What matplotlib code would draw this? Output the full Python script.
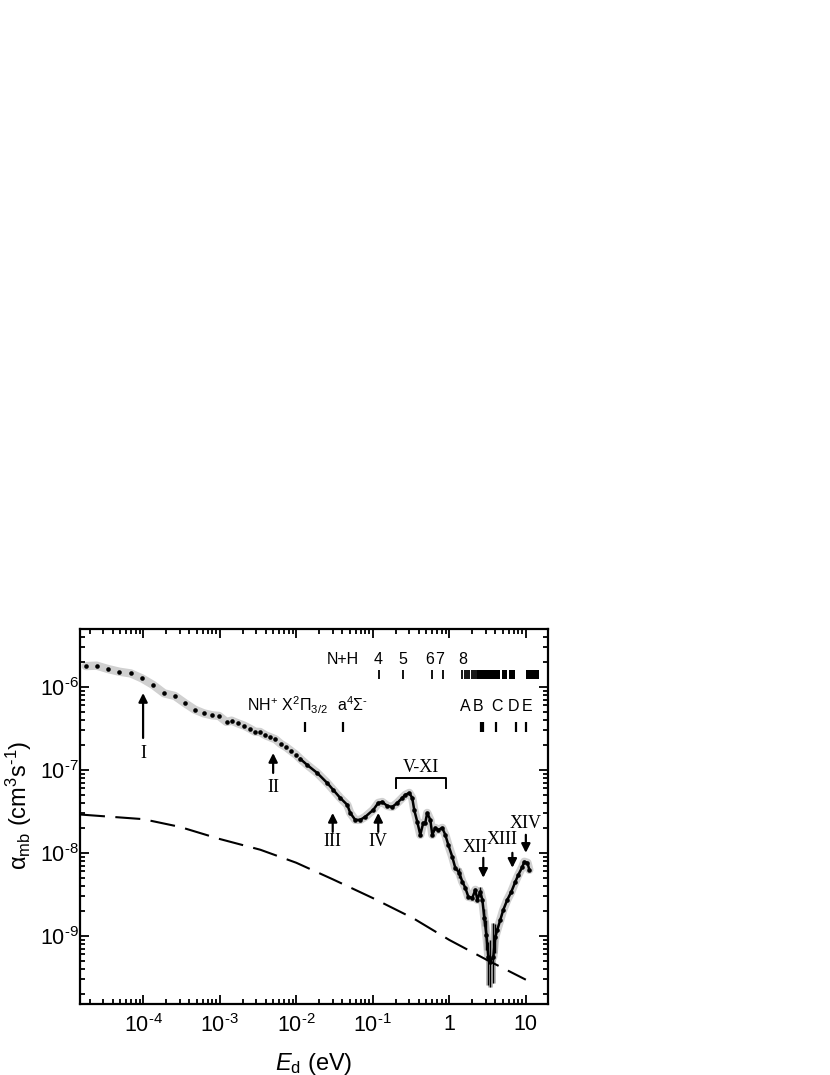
"""Recreate the NH+ dissociative recombination rate coefficient plot."""

import matplotlib

matplotlib.use("Agg")
import matplotlib.pyplot as plt
import numpy as np
from matplotlib.ticker import FixedFormatter, FixedLocator, LogLocator, NullFormatter

plt.rcParams["font.family"] = ["Liberation Sans", "DejaVu Sans"]
plt.rcParams["mathtext.fontset"] = "custom"
plt.rcParams["mathtext.rm"] = "Liberation Sans"
plt.rcParams["mathtext.it"] = "Liberation Sans:italic"
plt.rcParams["mathtext.bf"] = "Liberation Sans:bold"

# measured rate coefficient (eV, cm^3 s^-1)
energy = [
    1.78e-5, 2.48e-5, 3.48e-5, 4.9e-5, 6.9e-5, 9.7e-5, 1.35e-4, 1.88e-4, 2.6e-4, 3.54e-4,
    4.74e-4, 6.2e-4, 7.98e-4, 9.8e-4, 1.23e-3, 1.43e-3, 1.73e-3, 2.09e-3, 2.48e-3, 2.91e-3,
    3.38e-3, 3.97e-3, 4.6e-3, 5.36e-3, 6.3e-3, 7.4e-3, 8.6e-3, 1.0e-2, 1.13e-2, 0.0139,
    0.0188, 0.0254, 0.0305, 0.0376, 0.0465, 0.0508, 0.059, 0.0687, 0.0798, 0.1016,
    0.118, 0.133, 0.155, 0.18, 0.209, 0.243, 0.266, 0.300, 0.328, 0.348,
    0.382, 0.418, 0.457, 0.485, 0.515, 0.565, 0.600, 0.656, 0.718, 0.809,
    0.887, 0.970, 1.094, 1.197, 1.351, 1.479, 1.619, 1.772, 2.0, 2.19,
    2.32, 2.54, 2.70, 2.87, 3.05, 3.24, 3.44, 3.76, 3.99, 4.24,
    4.64, 5.08, 5.73, 6.46, 7.29, 7.98, 9.0, 9.55, 10.5, 11.1,
]
alpha = [
    1.79e-6, 1.81e-6, 1.65e-6, 1.53e-6, 1.46e-6, 1.27e-6, 1.06e-6, 8.4e-7, 7.8e-7, 6.37e-7,
    5.33e-7, 4.82e-7, 4.56e-7, 4.48e-7, 3.79e-7, 3.93e-7, 3.65e-7, 3.42e-7, 3.15e-7, 2.89e-7,
    2.87e-7, 2.62e-7, 2.48e-7, 2.34e-7, 2.06e-7, 1.88e-7, 1.69e-7, 1.52e-7, 1.36e-7, 1.15e-7,
    9.2e-8, 6.97e-8, 5.74e-8, 4.6e-8, 3.79e-8, 3.03e-8, 2.5e-8, 2.5e-8, 2.72e-8, 3.3e-8,
    4.0e-8, 4.11e-8, 3.68e-8, 3.58e-8, 4.0e-8, 4.6e-8, 5.0e-8, 5.28e-8, 4.6e-8, 3.3e-8,
    2.36e-8, 1.65e-8, 2.3e-8, 2.3e-8, 3.03e-8, 2.5e-8, 1.65e-8, 2.0e-8, 1.89e-8, 2.0e-8,
    1.65e-8, 1.25e-8, 8.95e-9, 6.59e-9, 5.74e-9, 4.48e-9, 3.79e-9, 2.95e-9, 2.87e-9, 3.58e-9,
    2.72e-9, 3.39e-9, 2.72e-9, 1.65e-9, 1.03e-9, 5.58e-10, 4.86e-10, 5.58e-10, 9.7e-10, 1.18e-9,
    1.56e-9, 2.06e-9, 2.72e-9, 3.39e-9, 4.48e-9, 5.43e-9, 6.78e-9, 7.8e-9, 7.58e-9, 6.24e-9,
]

# error bars (energy, lower, upper)
bar_energy = [1.351, 2.54, 2.87, 3.05, 3.24, 3.44, 3.76, 3.99]
bar_low = [5.0e-9, 2.9e-9, 1.3e-9, 6.8e-10, 2.57e-10, 2.43e-10, 2.72e-10, 6.24e-10]
bar_high = [6.5e-9, 3.9e-9, 2.1e-9, 1.56e-9, 8.3e-10, 8.95e-10, 1.43e-9, 1.37e-9]

# model curve (dashed)
model_energy = [1.5e-5, 1e-4, 3e-4, 1e-3, 3.4e-3, 1e-2, 3e-2, 0.1, 0.34, 1.0, 3.16, 10.0]
model_alpha = [2.9e-8, 2.55e-8, 2.06e-8, 1.47e-8, 1.09e-8, 7.6e-9, 4.8e-9, 2.85e-9,
               1.62e-9, 8.9e-10, 5.06e-10, 2.95e-10]

# N+H limits
nh_labels = ["4", "5", "6", "7", "8"]
nh_label_energy = [0.118, 0.25, 0.548, 0.74, 1.48]
nh_lines = [0.1216, 0.249, 0.60, 0.836, 1.466, 1.585, 1.70, 1.82, 1.98, 2.08, 2.23]
nh_blocks = [(2.30, 4.64), (4.89, 5.68), (5.96, 7.29), (10.07, 14.7)]

# NH+ states
state_lines = [0.0131, 0.041, 2.58, 2.72, 4.11, 7.4, 10.0]
state_letters = ["A", "B", "C", "D", "E"]
state_letter_energy = [1.62, 2.39, 4.24, 6.87, 10.5]

x_ticks = [1e-4, 1e-3, 1e-2, 1e-1, 1, 10]
x_ticklabels = [r"$10^{\text{-}4}$", r"$10^{\text{-}3}$", r"$10^{\text{-}2}$",
                r"$10^{\text{-}1}$", "1", "10"]
y_ticks = [1e-9, 1e-8, 1e-7, 1e-6]
y_ticklabels = [r"$10^{\text{-}9}$", r"$10^{\text{-}8}$", r"$10^{\text{-}7}$", r"$10^{\text{-}6}$"]

fig = plt.figure(figsize=(8.3, 10.75), dpi=100)
ax = fig.add_axes([0.0964, 0.066, 0.5639, 0.3488])
ax.set_xscale("log")
ax.set_yscale("log")
ax.set_xlim(1.5e-5, 19.5)
ax.set_ylim(1.5e-10, 5e-6)

energy_arr = np.asarray(energy)
alpha_arr = np.asarray(alpha)

ax.plot(energy_arr, alpha_arr, color="#d0d0d0", lw=6.0, solid_capstyle="round", zorder=1)
dense = energy_arr > 0.011
ax.plot(energy_arr[dense], alpha_arr[dense], color="black", lw=1.8, zorder=2)
ax.plot(energy_arr, alpha_arr, "o", ms=3.3, color="black", mec="none", zorder=3)
ax.vlines(bar_energy, bar_low, bar_high, color="#b5b5b5", lw=3.5, zorder=1)
ax.vlines(bar_energy, bar_low, bar_high, color="black", lw=1.0, zorder=3)

ax.plot(model_energy, model_alpha, color="black", lw=1.5, dashes=(12, 5), zorder=2)

# N+H row
ax.text(0.041, 1.89e-6, "N+H", ha="center", va="baseline", fontsize=11.5)
for lab, e in zip(nh_labels, nh_label_energy):
    ax.text(e, 1.89e-6, lab, ha="center", va="baseline", fontsize=11.5)
ax.vlines(nh_lines, 1.25e-6, 1.6e-6, color="black", lw=1.3)
for e0, e1 in nh_blocks:
    ax.fill_between([e0, e1], 1.25e-6, 1.6e-6, color="black", lw=0)

# NH+ states row
ax.text(0.0262, 5.14e-7, r"NH$^{+}$ X$^{2}\Pi_{3/2}$", ha="right", va="baseline", fontsize=11.5)
ax.text(0.054, 5.14e-7, r"a$^{4}\Sigma^{\text{-}}$", ha="center", va="baseline", fontsize=11.5)
for lab, e in zip(state_letters, state_letter_energy):
    ax.text(e, 5.14e-7, lab, ha="center", va="baseline", fontsize=11.5)
ax.vlines(state_lines, 2.87e-7, 3.79e-7, color="black", lw=1.6)

# roman numeral features
serif = ["Liberation Serif", "DejaVu Serif"]
arrow = dict(arrowstyle="-|>", lw=1.6, color="black", mutation_scale=13, shrinkA=0, shrinkB=0)
up_arrows = [
    ("I", 1e-4, 2.43e-7, 8.47e-7, 1.6e-7),
    ("II", 5e-3, 9.2e-8, 1.6e-7, 6.07e-8),
    ("III", 0.03, 1.79e-8, 3.03e-8, 1.36e-8),
    ("IV", 0.118, 1.79e-8, 3.03e-8, 1.36e-8),
]
for lab, e, y0, y1, ylab in up_arrows:
    ax.annotate("", xy=(e, y1), xytext=(e, y0), arrowprops=arrow)
    ax.text(e, ylab, lab, ha="center", va="center", fontsize=13, family=serif)

down_arrows = [
    ("XII", 2.78, 8.7e-9, 5.0e-9, 2.19, 1.15e-8),
    ("XIII", 6.67, 1.0e-8, 6.6e-9, 4.93, 1.43e-8),
    ("XIV", 10.0, 1.65e-8, 1.0e-8, 9.9, 2.23e-8),
]
for lab, e, y0, y1, xlab, ylab in down_arrows:
    ax.annotate("", xy=(e, y1), xytext=(e, y0), arrowprops=arrow)
    ax.text(xlab, ylab, lab, ha="center", va="center", fontsize=13, family=serif)

ax.plot([0.2, 0.2, 0.9, 0.9], [6.07e-8, 8.0e-8, 8.0e-8, 6.07e-8], color="black", lw=1.4)
ax.text(0.42, 1.06e-7, "V-XI", ha="center", va="center", fontsize=13, family=serif)

# axes styling
ax.xaxis.set_major_locator(FixedLocator(x_ticks))
ax.xaxis.set_major_formatter(FixedFormatter(x_ticklabels))
ax.xaxis.set_minor_locator(LogLocator(base=10, subs=np.arange(2, 10), numticks=30))
ax.xaxis.set_minor_formatter(NullFormatter())
ax.yaxis.set_major_locator(FixedLocator(y_ticks))
ax.yaxis.set_major_formatter(FixedFormatter(y_ticklabels))
ax.yaxis.set_minor_locator(LogLocator(base=10, subs=np.arange(2, 10), numticks=30))
ax.yaxis.set_minor_formatter(NullFormatter())

for spine in ax.spines.values():
    spine.set_linewidth(1.6)
ax.tick_params(which="both", direction="in", top=True, right=True, width=1.3)
ax.tick_params(which="major", length=6.5, labelsize=15.5)
ax.tick_params(which="minor", length=3.6)
ax.tick_params(axis="x", which="major", pad=7)
ax.tick_params(axis="y", which="major", pad=1)

ax.set_xlabel("$E_{\\mathrm{d}}$ (eV)", fontsize=17)
ax.xaxis.set_label_coords(0.5, -0.125)
ax.set_ylabel(r"$\mathrm{\alpha}_{\mathrm{mb}}$ (cm$^{3}$s$^{\text{-}1}$)", fontsize=17)
ax.yaxis.set_label_coords(-0.098, 0.53)

fig.savefig("out.png", dpi=100)
